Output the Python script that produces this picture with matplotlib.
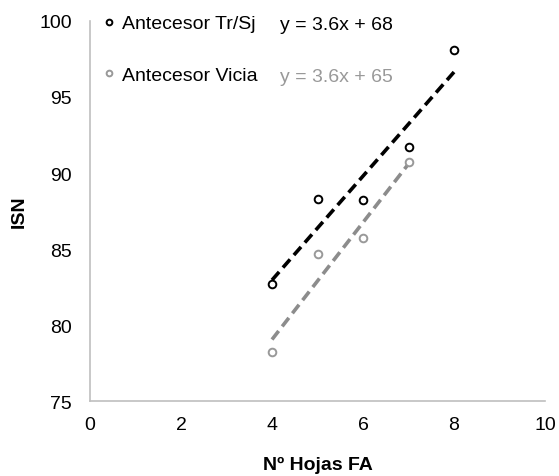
import matplotlib
matplotlib.use("Agg")
import matplotlib.pyplot as plt
import numpy as np

plt.rcParams["font.family"] = ["Liberation Sans", "DejaVu Sans"]

# data
x_trsj = [4, 5, 6, 7, 8]
y_trsj = [82.7, 88.3, 88.2, 91.7, 98.1]
x_vicia = [4, 5, 6, 7]
y_vicia = [78.2, 84.7, 85.7, 90.7]
labels = ["Antecesor Tr/Sj", "Antecesor Vicia"]
equations = ["y = 3.6x + 68", "y = 3.6x + 65"]
colors = ["black", "#999999"]
line_colors = ["black", "#8c8c8c"]

FS = 14

fig = plt.figure(figsize=(5.59, 4.77), dpi=100)
ax = fig.add_axes([0.161, 0.157, 0.814, 0.797])

for xs, ys, lab, c, lc in zip([x_trsj, x_vicia], [y_trsj, y_vicia], labels, colors, line_colors):
    ax.plot(xs, ys, "o", mfc="white", mec=c, ms=5.5, mew=1.4, ls="none", label=lab, zorder=3)
    k, b = np.polyfit(xs, ys, 1)
    xl = np.array([min(xs), max(xs)])
    ax.plot(xl, k * xl + b, "--", color=lc, lw=2.6, dashes=(3, 1.6), zorder=2)

ax.set_xlim(0, 10)
ax.set_ylim(75, 100)
ax.set_xticks(range(0, 11, 2))
ax.set_yticks(range(75, 101, 5))
ax.tick_params(length=0, labelsize=FS)
ax.tick_params(axis="y", pad=13)
ax.tick_params(axis="x", pad=11)
for s in ["top", "right"]:
    ax.spines[s].set_visible(False)
for s in ["left", "bottom"]:
    ax.spines[s].set_color("#bfbfbf")
    ax.spines[s].set_linewidth(1.2)

ax.set_xlabel("Nº Hojas FA", fontsize=FS, fontweight="bold", labelpad=16)
ax.set_ylabel("ISN", fontsize=FS, fontweight="bold", labelpad=8)

ax.legend(loc="upper left", bbox_to_anchor=(0.03, 1.016), frameon=False,
          fontsize=FS, handlelength=0.6, handletextpad=0.32,
          labelspacing=1.76, markerscale=0.75, borderaxespad=0, borderpad=0)

ax.text(280 / 559, 1 - 26 / 477, equations[0], transform=fig.transFigure,
        fontsize=FS, color=colors[0], va="center")
ax.text(280 / 559, 1 - 77 / 477, equations[1], transform=fig.transFigure,
        fontsize=FS, color=colors[1], va="center")

fig.savefig("out.png", dpi=100)
